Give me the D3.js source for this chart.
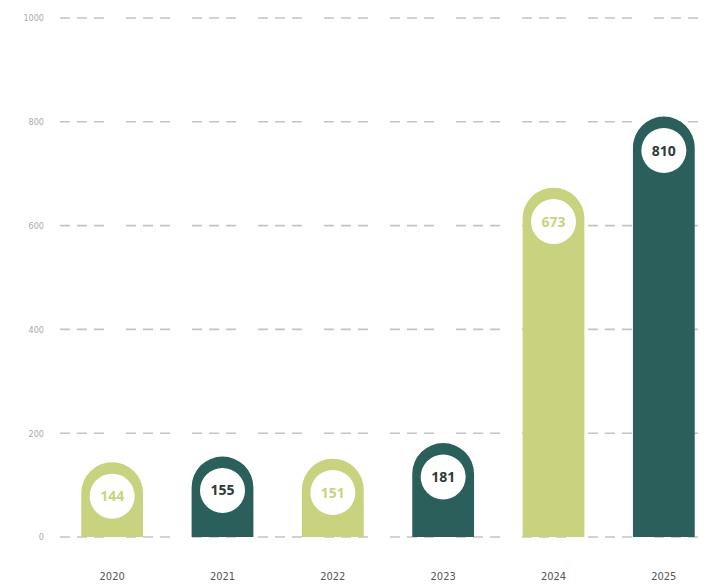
<!DOCTYPE html>
<html><head><meta charset="utf-8">
<script src="https://cdn.jsdelivr.net/npm/d3@7/dist/d3.min.js"></script>
<style>body{margin:0;background:#fff}svg{display:block}</style>
</head><body><svg id="c" width="723" height="588"></svg>
<script>
const years = ["2020","2021","2022","2023","2024","2025"];
const values = [144,155,151,181,673,810];
const shades = ["light","dark","light","dark","light","dark"];
const yTicks = [0,200,400,600,800,1000];

const W=723,H=588;
const svg=d3.select("#c");
const x=d3.scaleBand().domain(years).range([57,719]).paddingInner(0.44).paddingOuter(0.22);
const y=d3.scaleLinear().domain([0,1000]).range([537,18]);
const fill={light:"#c9d37f",dark:"#2b5f5b"};
const txt={light:"#c9d37f",dark:"#2e3b3a"};

// grid
const grid=svg.append("g");
grid.selectAll("line").data(yTicks).join("line")
  .attr("x1",60).attr("x2",718)
  .attr("y1",d=>y(d)).attr("y2",d=>y(d))
  .attr("stroke","#c4c4c4").attr("stroke-width",1.6)
  .attr("stroke-dasharray","10,7,10,7,10,22");
// y labels
const yAxis=d3.axisLeft(y).tickValues(yTicks).tickFormat(d3.format("d")).tickSize(0).tickPadding(0);
const ya=svg.append("g").attr("transform","translate(44,0)").call(yAxis);
ya.select(".domain").remove();
ya.selectAll("text").attr("fill","#aaa").attr("font-size",9).attr("font-family","Liberation Sans Narrow, DejaVu Sans Condensed, sans-serif");

// bars
const bw=x.bandwidth(), r=bw/2;
function barPath(d,i){
  const x0=x(years[i]), top=y(d), bot=y(0);
  const p=d3.path();
  p.moveTo(x0,bot);
  p.lineTo(x0,top+r);
  p.arc(x0+r,top+r,r,Math.PI,0);
  p.lineTo(x0+bw,bot);
  p.closePath();
  return p.toString();
}
svg.append("g").selectAll("path").data(values).join("path")
  .attr("d",barPath).attr("fill",(d,i)=>fill[shades[i]]);
// label circles
const lab=svg.append("g").selectAll("g").data(values).join("g")
  .attr("transform",(d,i)=>`translate(${x(years[i])+r},${y(d)+r+3})`);
lab.append("circle").attr("r",22.5).attr("fill","#fff");
lab.append("text").text(d=>d).attr("text-anchor","middle").attr("dy","0.36em")
  .attr("font-family","Open Sans, sans-serif").attr("font-weight",700).attr("font-size",14)
  .attr("fill",(d,i)=>txt[shades[i]]);

// x labels
const xAxis=d3.axisBottom(x).tickSize(0).tickPadding(0);
const xa=svg.append("g").attr("transform","translate(0,572)").call(xAxis);
xa.select(".domain").remove();
xa.selectAll("text").attr("fill","#555").attr("font-size",11).attr("font-family","Liberation Sans Narrow, DejaVu Sans Condensed, sans-serif");
</script></body></html>
